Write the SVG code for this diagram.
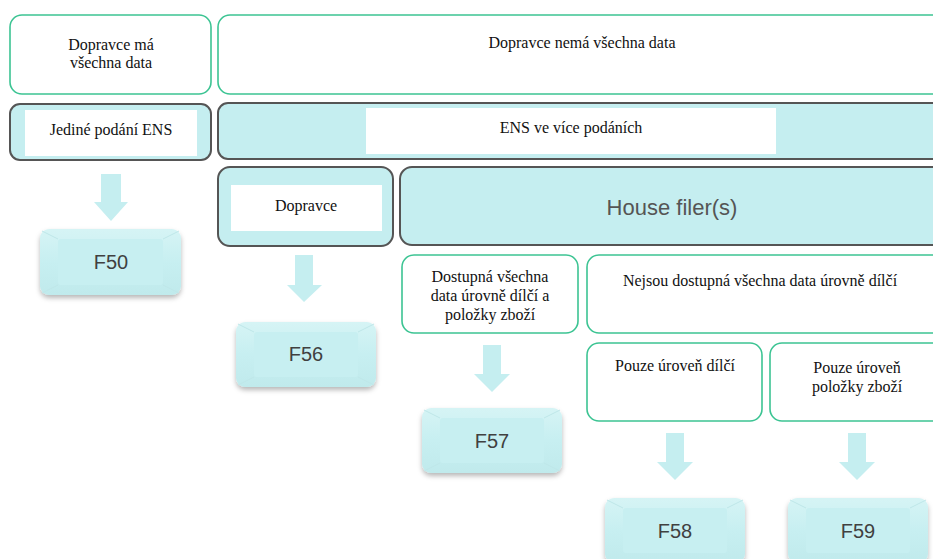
<svg xmlns="http://www.w3.org/2000/svg" width="933" height="559" viewBox="0 0 933 559">
<style>
.g{fill:#fff;stroke:#3cc493;stroke-width:1.6}
.c{fill:#c5eef0;stroke:#555;stroke-width:2}
.w{fill:#fff}
.t{font-family:"Liberation Serif","Times New Roman",serif;font-size:16px;fill:#111;text-anchor:middle}
.h{font-family:"Liberation Sans",Arial,sans-serif;font-size:22px;fill:#555;text-anchor:middle}
.f{font-family:"Liberation Sans",Arial,sans-serif;font-size:20px;fill:#404040;text-anchor:middle}
.ar{fill:#c5eef0}
.bv{fill:url(#bg);filter:url(#sh)}
.in{fill:#c7eff1}
.dg{stroke:#bfe7e9;stroke-width:1}
</style>
<defs>
<linearGradient id="bg" x1="0" y1="0" x2="0" y2="1">
<stop offset="0" stop-color="#d6f4f5"/>
<stop offset="0.5" stop-color="#c7eff1"/>
<stop offset="1" stop-color="#c0eaec"/>
</linearGradient>
<filter id="sh" x="-20%" y="-20%" width="140%" height="150%">
<feDropShadow dx="0" dy="3" stdDeviation="2.5" flood-color="#000" flood-opacity="0.28"/>
</filter>
</defs>

<g id="connectors">
<polygon class="ar" points="101,174 121,174 121,202 128,202 111,221 94,202 101,202"/>
<polygon class="ar" points="295,255 313,255 313,285 322,285 304,302 287,285 295,285"/>
<polygon class="ar" points="483,345 501,345 501,374 510,374 492,392 474,374 483,374"/>
<polygon class="ar" points="666,433 684,433 684,462 693,462 675,480 657,462 666,462"/>
<polygon class="ar" points="848,433 866,433 866,462 875,462 857,480 839,462 848,462"/>
</g>

<g id="n-has-all">
<rect class="g" x="10" y="15" width="201" height="79" rx="12"/>
<text class="t" x="111" y="50">Dopravce má</text>
<text class="t" x="111" y="68">všechna data</text>
</g>
<g id="n-not-all">
<rect class="g" x="218" y="15" width="728" height="79" rx="12"/>
<text class="t" x="582" y="48">Dopravce nemá všechna data</text>
</g>
<g id="n-single">
<rect class="c" x="10" y="104" width="201" height="56" rx="10"/>
<rect class="w" x="25" y="110" width="172" height="46"/>
<text class="t" x="111" y="135">Jediné podání ENS</text>
</g>
<g id="n-multi">
<rect class="c" x="218" y="103" width="728" height="56" rx="10"/>
<rect class="w" x="366" y="108" width="410" height="46"/>
<text class="t" x="571" y="133">ENS ve více podáních</text>
</g>
<g id="n-carrier">
<rect class="c" x="218" y="167" width="175" height="79" rx="12"/>
<rect class="w" x="231" y="185" width="151" height="46"/>
<text class="t" x="306" y="211">Dopravce</text>
</g>
<g id="n-house">
<rect class="c" x="400" y="167" width="546" height="78" rx="12"/>
<text class="h" x="672" y="215">House filer(s)</text>
</g>
<g id="n-avail">
<rect class="g" x="402" y="255" width="176" height="78" rx="12"/>
<text class="t" x="490" y="282">Dostupná všechna</text>
<text class="t" x="490" y="301">data úrovně dílčí a</text>
<text class="t" x="490" y="320">položky zboží</text>
</g>
<g id="n-notavail">
<rect class="g" x="587" y="255" width="360" height="78" rx="12"/>
<text class="t" x="760" y="286">Nejsou dostupná všechna data úrovně dílčí</text>
</g>
<g id="n-partial">
<rect class="g" x="587" y="343" width="175" height="78" rx="12"/>
<text class="t" x="675" y="371">Pouze úroveň dílčí</text>
</g>
<g id="n-item">
<rect class="g" x="770" y="343" width="174" height="78" rx="12"/>
<text class="t" x="857" y="373">Pouze úroveň</text>
<text class="t" x="857" y="392">položky zboží</text>
</g>

<g id="n-f50">
<rect class="bv" x="40" y="229" width="141" height="66" rx="9"/>
<rect class="in" x="58" y="239" width="105" height="46" rx="3"/>
<path class="dg" d="M42,231 L58,239 M179,231 L163,239 M42,293 L58,285 M179,293 L163,285"/>
<text class="f" x="111" y="269">F50</text>
</g>
<g id="n-f56">
<rect class="bv" x="236" y="322" width="140" height="65" rx="9"/>
<rect class="in" x="254" y="332" width="104" height="45" rx="3"/>
<path class="dg" d="M238,324 L254,332 M374,324 L358,332 M238,385 L254,377 M374,385 L358,377"/>
<text class="f" x="306" y="361">F56</text>
</g>
<g id="n-f57">
<rect class="bv" x="422" y="408" width="140" height="65" rx="9"/>
<rect class="in" x="440" y="418" width="104" height="45" rx="3"/>
<path class="dg" d="M424,410 L440,418 M560,410 L544,418 M424,471 L440,463 M560,471 L544,463"/>
<text class="f" x="492" y="448">F57</text>
</g>
<g id="n-f58">
<rect class="bv" x="605" y="498" width="140" height="65" rx="9"/>
<rect class="in" x="623" y="508" width="104" height="45" rx="3"/>
<path class="dg" d="M607,500 L623,508 M743,500 L727,508"/>
<text class="f" x="675" y="538">F58</text>
</g>
<g id="n-f59">
<rect class="bv" x="788" y="498" width="140" height="65" rx="9"/>
<rect class="in" x="806" y="508" width="104" height="45" rx="3"/>
<path class="dg" d="M790,500 L806,508 M926,500 L910,508"/>
<text class="f" x="858" y="538">F59</text>
</g>
</svg>
